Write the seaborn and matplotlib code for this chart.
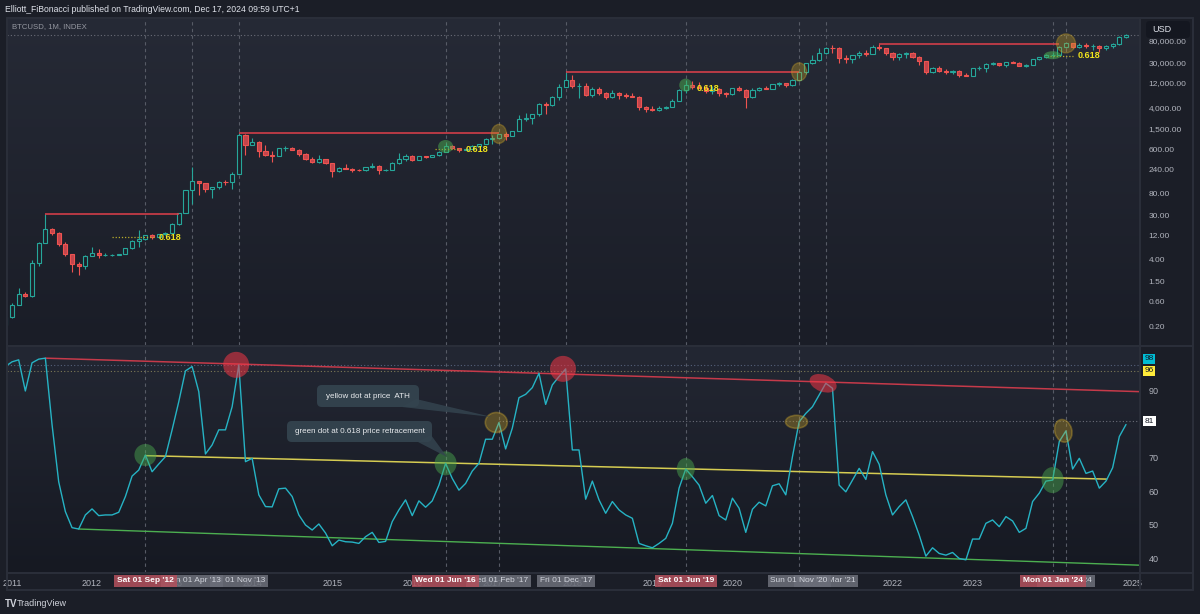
import numpy as np
import pandas as pd
import seaborn as sns
import matplotlib.pyplot as plt
from matplotlib.colors import LinearSegmentedColormap
from matplotlib.patches import Ellipse, FancyBboxPatch, Polygon
from matplotlib.lines import Line2D
from matplotlib.ticker import NullLocator
from matplotlib.transforms import IdentityTransform

# monthly BTCUSD candles, Dec 2010 .. Dec 2024
months = pd.date_range("2010-12-01", "2024-12-01", freq="MS")
first_open = 0.21
high = [0.30,
        0.56, 1.10, 0.95, 3.9, 9.0, 32, 16.5, 14.0, 8.8, 5.2, 3.6, 4.9,
        7.2, 6.4, 5.4, 5.3, 5.2, 6.8, 9.6, 15.4, 12.5, 12.9, 12.7, 13.8,
        20.7, 33.5, 95, 266, 140, 130, 110, 140, 145, 212, 1240, 1160,
        1000, 850, 710, 560, 630, 680, 650, 600, 500, 415, 460, 385,
        320, 265, 300, 260, 245, 265, 320, 285, 245, 330, 500, 470,
        465, 445, 440, 465, 550, 780, 705, 625, 615, 715, 755, 975,
        1150, 1210, 1300, 1360, 2760, 3000, 2950, 4760, 4980, 6470, 11400, 19700,
        17200, 11800, 11700, 9750, 9990, 7780, 8500, 7760, 7400, 7680, 6600, 4280,
        4140, 4200, 4150, 5650, 9100, 13900, 13200, 12300, 10900, 10500, 9500, 7750,
        9600, 10500, 9200, 9470, 10070, 10400, 11450, 12480, 12070, 14100, 19900, 29300,
        41900, 58300, 61800, 64900, 59600, 41300, 42400, 50500, 52900, 67000, 69000, 59100,
        48000, 45800, 48200, 47400, 40000, 31900, 24700, 25200, 22800, 21000, 21500, 18400,
        23900, 25200, 29200, 31000, 29800, 31400, 31800, 30200, 27500, 35200, 38400, 44700,
        48900, 63900, 73800, 72800, 71900, 72000, 70000, 65100, 66500, 73600, 99800, 107000]
low = [0.19,
       0.29, 0.52, 0.74, 0.74, 3.0, 8.5, 12.5, 7.5, 4.8, 2.3, 2.0, 2.6,
       4.7, 4.3, 4.7, 4.8, 4.9, 5.2, 6.5, 7.1, 9.8, 10.1, 10.6, 12.4,
       13.2, 19.6, 33, 50, 76, 87, 65, 98, 116, 100, 198, 450,
       730, 420, 440, 340, 435, 540, 570, 430, 370, 320, 320, 300,
       170, 208, 240, 214, 225, 220, 255, 190, 225, 236, 300, 350,
       350, 365, 405, 412, 440, 530, 600, 530, 570, 605, 690, 740,
       750, 930, 890, 1060, 1350, 2150, 1830, 2680, 2980, 4110, 5500, 9700,
       9400, 6000, 6600, 6450, 7050, 5780, 6080, 5880, 6150, 6200, 3550, 3150,
       3350, 3390, 3700, 4040, 5320, 7500, 9050, 9350, 7700, 7300, 6500, 6420,
       6850, 8450, 3850, 6150, 8100, 8900, 8950, 10550, 9900, 10400, 13200, 17600,
       28100, 32300, 45000, 47000, 30000, 28800, 29300, 37300, 39600, 43300, 53300, 42000,
       32900, 34300, 37200, 37600, 26700, 17600, 18800, 19600, 18100, 18200, 15500, 16300,
       16500, 21400, 19600, 26900, 25800, 24800, 28900, 25200, 24900, 26600, 34100, 37600,
       38500, 41900, 59000, 59200, 56600, 58500, 53500, 49100, 52600, 58900, 66800, 90500]
close = [0.30,
         0.52, 0.86, 0.78, 3.50, 8.7, 16.1, 13.4, 8.2, 5.1, 3.25, 2.97, 4.72,
         5.5, 4.9, 4.9, 5.0, 5.15, 6.7, 9.35, 10.2, 12.4, 11.2, 12.6, 13.5,
         20.4, 33.4, 93, 139, 129, 97, 106, 135, 133, 198, 1130, 732,
         830, 550, 450, 446, 630, 640, 586, 480, 386, 338, 378, 320,
         218, 254, 244, 236, 230, 263, 284, 230, 236, 314, 378, 430,
         368, 437, 416, 448, 531, 673, 624, 573, 609, 700, 742, 963,
         970, 1190, 1080, 1350, 2300, 2480, 2875, 4700, 4340, 6450, 9950, 13800,
         10200, 10300, 6930, 9240, 7490, 6390, 7730, 7030, 6630, 6370, 4020, 3740,
         3440, 3810, 4100, 5320, 8560, 10800, 10080, 9600, 8300, 9150, 7550, 7200,
         9350, 8600, 6440, 8630, 9450, 9140, 11350, 11650, 10780, 13800, 19700, 29000,
         33100, 45200, 58800, 57700, 37300, 35000, 41500, 47100, 43800, 61300, 57000, 46300,
         38500, 43200, 45500, 37700, 31800, 19900, 23300, 20000, 19400, 20500, 17200, 16500,
         23100, 23150, 28500, 29200, 27200, 30500, 29200, 26000, 27000, 34600, 37700, 42300,
         42600, 61200, 71300, 60700, 67500, 62700, 64600, 59000, 63300, 70200, 96400, 106000]
rsi = [97.3,
       98.7, 99.3, 90.0, 98.4, 99.5, 99.8, 80.0, 62.9, 54.0, 49.2, 48.8, 53.0,
       54.8, 52.8, 53.0, 53.0, 53.8, 58.5, 64.6, 66.4, 70.9, 65.9, 68.2, 70.4,
       78.4, 86.8, 96.0, 97.3, 89.8, 71.2, 73.9, 78.4, 78.4, 85.3, 97.8, 68.9,
       69.9, 59.0, 55.5, 55.4, 60.8, 61.0, 58.5, 53.0, 50.0, 48.5, 50.3, 47.6,
       43.8, 45.5, 45.0, 44.9, 44.5, 46.5, 47.8, 44.8, 45.1, 51.0, 54.5, 57.5,
       52.8, 57.2, 55.3, 57.2, 61.9, 68.4, 63.9, 60.4, 62.4, 66.1, 68.4, 75.6,
       75.6, 80.6, 72.7, 78.9, 88.0, 89.0, 91.0, 95.3, 86.0, 91.8, 94.3, 96.6,
       72.4, 72.4, 57.7, 63.1, 57.5, 53.5, 57.0, 54.5, 53.0, 52.0, 44.5, 43.8,
       43.2, 44.5, 46.0, 50.5, 61.0, 66.7, 64.4, 61.9, 56.5, 58.8, 52.8, 51.5,
       58.0, 55.0, 47.8, 54.7, 56.8, 55.7, 61.7, 62.3, 59.0, 70.4, 80.8, 83.3,
       85.3, 88.8, 92.3, 90.8, 61.9, 59.9, 63.4, 66.9, 63.6, 71.9, 68.1, 59.0,
       53.0, 55.5, 57.5, 52.5, 47.0, 40.7, 43.2, 41.5, 41.0, 41.8, 40.0, 39.6,
       45.8, 45.8, 50.5, 51.5, 49.5, 52.5, 51.2, 47.8, 49.0, 57.0, 59.5, 63.1,
       63.4, 74.9, 78.1, 66.7, 69.9, 65.4, 66.1, 61.0, 63.1, 67.1, 76.4, 80.0]

# marked months (index into months) and their time-axis tags
event_idx = [21, 28, 35, 66, 74, 84, 102, 119, 123, 157, 159]
event_tags = ["Sat 01 Sep '12", "Mon 01 Apr '13", "Fri 01 Nov '13", "Wed 01 Jun '16",
              "Wed 01 Feb '17", "Fri 01 Dec '17", "Sat 01 Jun '19", "Sun 01 Nov '20",
              "Mon 01 Mar '21", "Mon 01 Jan '24", "Fri 01 Mar '24"]
event_red = [True, False, False, True, False, False, True, False, False, True, False]
lower_events = [21, 66, 74, 102, 119, 157, 159]

# ATH lines on price: (start month, end month)
ath_spans = [(6, 26), (35, 74), (84, 119), (131, 158)]
# 0.618 levels: (start, end, price, text position)
fib_levels = [(16, 22.4, 11.2, 23.0), (64.4, 68.5, 600, 69.0),
              (None, None, 9400, 103.7), (156.6, 160.1, 40400, 160.8)]
green_dots = [66, 102, 157]
yellow_dots = [74, 119, 159]

# trend lines on the oscillator
res_line = [(6, 170.1), (99.8, 89.8)]
mid_line = [(21, 165.1), (70.7, 63.7)]
sup_line = [(11, 170.1), (48.8, 38.0)]
osc_green = [21, 66, 102, 157]
osc_red = [35, 84, 123]
osc_yellow = [74, 119, 159]

price_ticks = [0.2, 0.6, 1.5, 4, 12, 30, 80, 240, 600, 1500, 4000, 12000, 30000, 80000]
osc_ticks = [40, 50, 60, 70, 90]
years = list(range(2011, 2026))

df = pd.DataFrame({"month": months, "high": high, "low": low, "close": close, "rsi": rsi})
df["open"] = [first_open] + close[:-1]
df["i"] = np.arange(len(df))

GREEN = "#26a69a"
RED = "#ef5350"
LINE = "#26b3c4"
TXT = "#b2b5be"
W, H = 1200, 614

sns.set_theme(style="dark")
plt.rcParams["font.family"] = ["Liberation Sans", "DejaVu Sans"]

fig = plt.figure(figsize=(12, 6.14), dpi=100, facecolor="#1b1e27")


def fx(px):
    return px / W


def fy(py):
    return 1 - py / H


ax1 = fig.add_axes([fx(7), fy(345), fx(1140) - fx(7), fy(18) - fy(345)])
ax2 = fig.add_axes([fx(7), fy(573), fx(1140) - fx(7), fy(347) - fy(573)])

ax1.set_yscale("log")
ax1.set_ylim(0.0847, 224900)
ax2.set_ylim(35.67, 103.13)
for ax in (ax1, ax2):
    ax.set_xlim(0.25, 170.1)
    ax.grid(False)
    for s in ax.spines.values():
        s.set_visible(False)


def shade(ax, top, bottom):
    grad = np.linspace(0, 1, 256).reshape(-1, 1)
    cmap = LinearSegmentedColormap.from_list("bg", [top, bottom])
    ax.imshow(grad, aspect="auto", cmap=cmap, extent=[0, 1, 0, 1],
              transform=ax.transAxes, zorder=-10)


shade(ax1, "#262a36", "#1a1d27")
shade(ax2, "#232733", "#161922")
ax1.set_xlim(0.25, 170.1)
ax1.set_ylim(0.0847, 224900)
ax2.set_xlim(0.25, 170.1)
ax2.set_ylim(35.67, 103.13)

# candles
up = df["close"] >= df["open"]
lo_b = df[["open", "close"]].min(axis=1)
hi_b = df[["open", "close"]].max(axis=1)
cols = np.where(up, GREEN, RED)
ax1.vlines(df["i"], df["low"], lo_b, colors=cols, lw=0.8, zorder=3)
ax1.vlines(df["i"], hi_b, df["high"], colors=cols, lw=0.8, zorder=3)
ax1.bar(df["i"][up], (hi_b - lo_b)[up], bottom=lo_b[up], width=0.62,
        facecolor="#1d2029", edgecolor=GREEN, lw=0.8, zorder=4)
ax1.bar(df["i"][~up], (hi_b - lo_b)[~up], bottom=lo_b[~up], width=0.62,
        facecolor="#c2454c", edgecolor=RED, lw=0.8, zorder=4)

# oscillator
sns.lineplot(data=df, x="i", y="rsi", ax=ax2, color=LINE, lw=1.0, zorder=4)
ax2.set_xlabel("")
ax2.set_ylabel("")
ax2.plot(*res_line, color="#c63a4a", lw=1.1, zorder=3)
ax2.plot(*mid_line, color="#d6cc52", lw=1.1, zorder=3)
ax2.plot(*sup_line, color="#4caf50", lw=1.0, zorder=3)
ax2.axhline(97.8, color="#55627a", ls=(0, (1, 2)), lw=0.8, zorder=2)
ax2.axhline(96, color="#7d7a55", ls=(0, (1, 2)), lw=0.8, zorder=2)
ax2.hlines(81, 74, 170.1, color="#6a6d78", ls=(0, (1, 2)), lw=0.8, zorder=2)
ax1.axhline(close[-1], color="#6a6d78", ls=(0, (1, 2)), lw=0.8, zorder=2)

for i in event_idx:
    ax1.axvline(i, color="#575b66", ls=(0, (3, 3)), lw=0.8, zorder=1)
for i in lower_events:
    ax2.axvline(i, color="#575b66", ls=(0, (3, 3)), lw=0.8, zorder=1)

# ATH lines and fib marks
for a, b in ath_spans:
    ax1.hlines(high[a], a, b, color="#e0404b", lw=1.1, zorder=5)
for a, b, p, t in fib_levels:
    if a is not None:
        ax1.hlines(p, a, b, color="#b8ab2c", ls=(0, (1, 1.5)), lw=0.9, zorder=5)
    ax1.text(t, p, "0.618", color="#f2e51c", fontsize=6.5, fontweight="bold",
             va="center", ha="left", zorder=6)


def blob(ax, x, y, w, h, angle=0, fc="none", ec="none", alpha=1.0, lw=1.0):
    cx, cy = ax.transData.transform((x, y))
    e = Ellipse((cx, cy), w, h, angle=angle, transform=IdentityTransform(),
                facecolor=fc, edgecolor=ec, alpha=alpha, lw=lw, zorder=7)
    ax.add_artist(e)


blob(ax1, green_dots[0], close[green_dots[0]], 15, 13, fc="#4caf50", alpha=0.5)
blob(ax1, green_dots[1], close[green_dots[1]], 13, 13, fc="#4caf50", alpha=0.5)
blob(ax1, green_dots[2], close[green_dots[2]] * 0.98, 17, 8, fc="#4caf50", alpha=0.55)
blob(ax1, yellow_dots[0], close[yellow_dots[0]], 15, 19, fc="#c9a227", ec="#c9a227", alpha=0.35)
blob(ax1, yellow_dots[1], close[yellow_dots[1]], 15, 18, fc="#c9a227", ec="#c9a227", alpha=0.35)
blob(ax1, yellow_dots[2], close[yellow_dots[2]], 19, 19, fc="#c9a227", ec="#c9a227", alpha=0.35)

osc_g_size = [(22, 22), (22, 24), (18, 22), (22, 26)]
for i, (w, h) in zip(osc_green, osc_g_size):
    blob(ax2, i, rsi[i], w, h, fc="#4caf50", alpha=0.45)
osc_r_size = [(26, 26, 0), (26, 26, 0), (28, 17, -20)]
for i, (w, h, a) in zip(osc_red, osc_r_size):
    blob(ax2, i - 0.4, rsi[i], w, h, angle=a, fc="#f23645", alpha=0.55)
osc_y_size = [(22, 20, 0), (22, 13, 0), (17, 23, 15)]
for i, (w, h, a) in zip(osc_yellow, osc_y_size):
    blob(ax2, i - 0.4, rsi[i], w, h, angle=a, fc="#c9a227", ec="#d8b030", alpha=0.35, lw=1.2)

# axes ticks
ax1.set_xticks([])
ax1.set_yticks(price_ticks)
ax1.set_yticklabels([f"{p:,.2f}" for p in price_ticks])
ax1.yaxis.set_minor_locator(NullLocator())
ax1.yaxis.tick_right()
ax1.tick_params(axis="y", length=0, pad=6, labelsize=6, labelcolor=TXT)

ax2.set_yticks(osc_ticks)
ax2.set_yticklabels([str(v) for v in osc_ticks])
ax2.yaxis.tick_right()
ax2.tick_params(axis="y", length=0, pad=6, labelsize=6.5, labelcolor=TXT)
ax2.set_xticks([1 + 12 * k for k in range(len(years))])
ax2.set_xticklabels([str(y) for y in years])
ax2.tick_params(axis="x", length=0, pad=4, labelsize=6.5, labelcolor=TXT)

for v, fc in [(99.6, "#00bcd4"), (96, "#ffeb3b"), (81, "#ffffff")]:
    ax2.annotate(f"{98 if v > 98 else int(v)}", xy=(1.004, v), xycoords=("axes fraction", "data"),
                 ha="left", va="center", fontsize=6, color="#131722", annotation_clip=False,
                 bbox=dict(boxstyle="square,pad=0.2", fc=fc, ec="none"))

# time axis tags, earlier tags on top
for k, (i, tag, red) in enumerate(zip(event_idx, event_tags, event_red)):
    px = ax2.transData.transform((i, 50))[0] / W
    fig.text(px, fy(581), tag, ha="center", va="center", fontsize=6,
             color="#ffffff" if red else "#d1d4dc", fontweight="bold" if red else "normal",
             bbox=dict(boxstyle="square,pad=0.35", fc="#b0505c" if red else "#6a6d78",
                       ec="none", alpha=0.88), zorder=30 - k)

# callouts on the oscillator
callouts = [("yellow dot at price  ATH", (317, 385, 419, 407), [(402, 407), (416, 399), (492, 417)]),
            ("green dot at 0.618 price retracement", (287, 421, 432, 442), [(418, 442), (431, 435), (447, 457)])]
for text, (x0, y0, x1, y1), tri in callouts:
    fig.add_artist(Polygon([(fx(a), fy(b)) for a, b in tri], closed=True, fc="#34444f",
                           ec="none", alpha=0.85, transform=fig.transFigure, zorder=8))
    fig.add_artist(FancyBboxPatch((fx(x0), fy(y1)), fx(x1) - fx(x0), fy(y0) - fy(y1),
                                  boxstyle="round,pad=0,rounding_size=0.004", mutation_aspect=W / H,
                                  fc="#34444f", ec="none", alpha=0.92, transform=fig.transFigure, zorder=8))
    fig.text(fx((x0 + x1) / 2), fy((y0 + y1) / 2), text, ha="center", va="center",
             fontsize=5.8, color="#e8eaed", zorder=9)

# frame, separators and header texts
sep = "#2a2e39"
for xs, ys in [((7, 1193), (346, 346)), ((7, 1193), (573, 573)), ((7, 1193), (590, 590)),
               ((1140, 1140), (18, 590)), ((7, 1193), (18, 18)), ((7, 7), (18, 590)),
               ((1193, 1193), (18, 590))]:
    fig.add_artist(Line2D([fx(xs[0]), fx(xs[1])], [fy(ys[0]), fy(ys[1])], color=sep,
                          lw=1.5, transform=fig.transFigure, zorder=9))

fig.text(fx(5), fy(9), "Elliott_FiBonacci published on TradingView.com, Dec 17, 2024 09:59 UTC+1",
         color="#e0e3eb", fontsize=6.2, va="center", ha="left")
fig.text(fx(12), fy(27), "BTCUSD, 1M, INDEX", color="#9598a1", fontsize=5.6, va="center", ha="left")
fig.add_artist(FancyBboxPatch((fx(1146), fy(38)), fx(1190) - fx(1146), fy(21) - fy(38),
                              boxstyle="round,pad=0,rounding_size=0.003", mutation_aspect=W / H,
                              fc="#141720", ec="none", transform=fig.transFigure, zorder=10))
fig.text(fx(1152), fy(29), "USD", color="#e0e3eb", fontsize=6.5, va="center", ha="left", zorder=11)
fig.text(fx(5), fy(604), "TV", color="#d1d4dc", fontsize=7, fontweight="bold", va="center", ha="left")
fig.text(fx(17), fy(604), "TradingView", color="#d1d4dc", fontsize=6.5, va="center", ha="left")

fig.savefig("out.png", dpi=100, facecolor=fig.get_facecolor())
